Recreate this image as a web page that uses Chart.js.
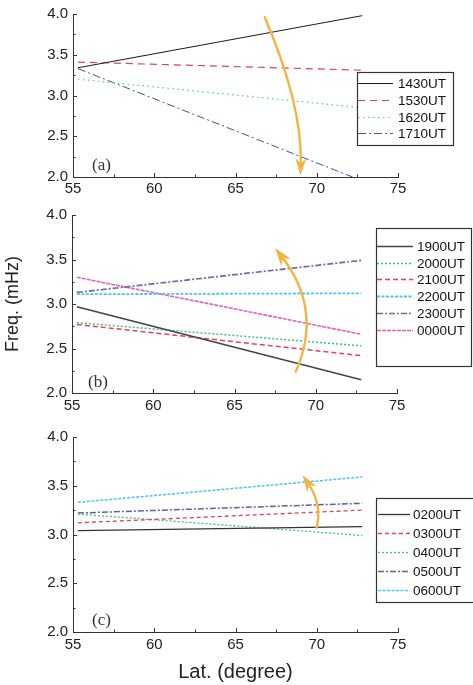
<!DOCTYPE html>
<html><head><meta charset="utf-8">
<script src="https://cdn.jsdelivr.net/npm/chart.js@4.4.1/dist/chart.umd.min.js"></script>
<style>
html,body{margin:0;padding:0;background:#fff;width:473px;height:685px;overflow:hidden}
.p{position:absolute;left:0}
</style></head><body>
<div class="p" style="top:0px"><canvas id="ca" width="473" height="200" style="width:473px;height:200px"></canvas></div>
<div class="p" style="top:200px"><canvas id="cb" width="473" height="220" style="width:473px;height:220px"></canvas></div>
<div class="p" style="top:420px"><canvas id="cc" width="473" height="265" style="width:473px;height:265px"></canvas></div>
<script>
// ---- data ----
const latTicks = [55, 60, 65, 70, 75];
const freqTicks = [2.0, 2.5, 3.0, 3.5, 4.0];
const latRange = [55.3, 72.8];
const lat1710 = [55.3, 72.2];

const labelsA = ['1430UT', '1530UT', '1620UT', '1710UT'];
const f1430 = [3.34, 3.98];
const f1530 = [3.41, 3.31];
const f1620 = [3.20, 2.85];
const f1710 = [3.33, 2.00];

const labelsB = ['1900UT', '2000UT', '2100UT', '2200UT', '2300UT', '0000UT'];
const f1900 = [2.97, 2.15];
const f2000 = [2.79, 2.53];
const f2100 = [2.77, 2.42];
const f2200 = [3.11, 3.12];
const f2300 = [3.13, 3.49];
const f0000 = [3.30, 2.66];

const labelsC = ['0200UT', '0300UT', '0400UT', '0500UT', '0600UT'];
const f0200 = [3.04, 3.08];
const f0300 = [3.12, 3.25];
const f0400 = [3.21, 2.99];
const f0500 = [3.22, 3.32];
const f0600 = [3.33, 3.59];

// arrows: start, middle, tip
const arrowALat = [66.8, 68.5, 69.0];
const arrowAFreq = [3.96, 2.94, 2.02];
const arrowBLat = [68.77, 69.28, 67.5];
const arrowBFreq = [2.24, 2.93, 3.63];
const arrowCLat = [69.99, 69.95, 69.13];
const arrowCFreq = [3.07, 3.32, 3.61];

const panelLabels = ['(a)', '(b)', '(c)'];

// ---- drawing ----
const SANS = "'Liberation Sans', Arial, sans-serif";
const SERIF = "'Liberation Serif', 'Times New Roman', serif";
const ORANGE = '#f3b444';

function pts(xs, ys) { return xs.map((x, i) => ({x: x, y: ys[i]})); }
function mids(arr) { const m = []; for (let i = 0; i < arr.length - 1; i++) m.push((arr[i] + arr[i + 1]) / 2); return m; }

const decor = {
  id: 'decor',
  afterDatasetsDraw(chart) {
    const o = chart.options.plugins.decor;
    const ctx = chart.ctx, xs = chart.scales.x, ys = chart.scales.y, a = chart.chartArea;
    ctx.save();
    // inward ticks
    ctx.strokeStyle = '#333'; ctx.lineWidth = 1;
    ctx.beginPath();
    latTicks.forEach(v => { const px = Math.round(xs.getPixelForValue(v)) + 0.5; ctx.moveTo(px, a.bottom); ctx.lineTo(px, a.bottom - 4); });
    mids(latTicks).forEach(v => { const px = Math.round(xs.getPixelForValue(v)) + 0.5; ctx.moveTo(px, a.bottom); ctx.lineTo(px, a.bottom - 2.5); });
    freqTicks.forEach(v => { const py = Math.round(ys.getPixelForValue(v)) + 0.5; ctx.moveTo(a.left, py); ctx.lineTo(a.left + 4, py); });
    mids(freqTicks).forEach(v => { const py = Math.round(ys.getPixelForValue(v)) + 0.5; ctx.moveTo(a.left, py); ctx.lineTo(a.left + 2.5, py); });
    ctx.stroke();
    // arrow
    const p = o.arrowLat.map((x, i) => ({x: xs.getPixelForValue(x), y: ys.getPixelForValue(o.arrowFreq[i])}));
    const p0 = p[0], pm = p[1], p2 = p[2];
    const c = {x: 2 * pm.x - (p0.x + p2.x) / 2, y: 2 * pm.y - (p0.y + p2.y) / 2};
    let ux = p2.x - c.x, uy = p2.y - c.y; const L = Math.hypot(ux, uy); ux /= L; uy /= L;
    const hl = o.headLen, hw = o.headW;
    const b = {x: p2.x - ux * hl, y: p2.y - uy * hl};
    ctx.strokeStyle = ORANGE; ctx.fillStyle = ORANGE; ctx.lineWidth = 2.4; ctx.lineCap = 'round';
    ctx.beginPath(); ctx.moveTo(p0.x, p0.y);
    ctx.quadraticCurveTo(c.x, c.y, b.x + ux * 3, b.y + uy * 3); ctx.stroke();
    ctx.beginPath();
    ctx.moveTo(p2.x, p2.y);
    ctx.lineTo(b.x - uy * hw - ux * 2, b.y + ux * hw - uy * 2);
    ctx.lineTo(b.x + ux * 3, b.y + uy * 3);
    ctx.lineTo(b.x + uy * hw - ux * 2, b.y - ux * hw - uy * 2);
    ctx.closePath(); ctx.fill();
    // panel label
    ctx.fillStyle = '#333'; ctx.font = '17px ' + SERIF; ctx.textBaseline = 'middle'; ctx.textAlign = 'left';
    ctx.fillText(o.panel, o.panelX, o.panelY - o.top);
    ctx.restore();
  },
  afterDraw(chart) {
    const o = chart.options.plugins.decor;
    const ctx = chart.ctx, g = o.legend;
    ctx.save();
    ctx.fillStyle = '#fff'; ctx.strokeStyle = '#333'; ctx.lineWidth = 1.2;
    ctx.fillRect(g.x, g.y - o.top, g.w, g.h);
    ctx.strokeRect(g.x + 0.5, g.y - o.top + 0.5, g.w, g.h);
    chart.data.datasets.forEach((ds, i) => {
      const y = Math.round(g.row0 + i * g.dy - o.top) + 0.5;
      ctx.strokeStyle = ds.borderColor; ctx.lineWidth = ds.borderWidth; ctx.setLineDash(ds.borderDash || []);
      ctx.beginPath(); ctx.moveTo(g.l0, y); ctx.lineTo(g.l1, y); ctx.stroke();
      ctx.setLineDash([]);
      ctx.fillStyle = '#111'; ctx.font = '13.5px ' + SANS; ctx.textBaseline = 'middle'; ctx.textAlign = 'left';
      ctx.fillText(ds.label, g.tx, y + 0.5);
    });
    ctx.restore();
  }
};

function makeChart(id, cfg) {
  return new Chart(document.getElementById(id), {
    type: 'line',
    data: {
      datasets: cfg.series.map(s => ({
        label: s.label, data: pts(s.lat, s.freq), borderColor: s.color, borderDash: s.dash || [],
        borderWidth: s.width, pointRadius: 0, fill: false, tension: 0
      }))
    },
    options: {
      responsive: false, animation: false, devicePixelRatio: 1,
      layout: {padding: {top: cfg.padTop, right: cfg.padRight, left: 0, bottom: 0}},
      plugins: {legend: {display: false}, tooltip: {enabled: false}, decor: cfg.decor},
      scales: {
        x: {
          type: 'linear', min: 55, max: 75,
          afterBuildTicks: s => { s.ticks = latTicks.map(v => ({value: v})); },
          afterFit: s => { s.height = cfg.xHeight; },
          grid: {display: false, drawTicks: false},
          border: {display: true, color: '#333', width: 1},
          ticks: {padding: cfg.xPad, color: '#222', font: {family: SANS, size: 15}, maxRotation: 0, autoSkip: false, callback: v => String(v)},
          title: cfg.xTitle ? {display: true, text: cfg.xTitle, color: '#222', font: {family: SANS, size: 20}, padding: {top: 0, bottom: 1}} : {display: false}
        },
        y: {
          type: 'linear', min: 2, max: 4,
          afterBuildTicks: s => { s.ticks = freqTicks.map(v => ({value: v})); },
          afterFit: s => { s.width = cfg.yWidth; },
          grid: {display: false, drawTicks: false},
          border: {display: true, color: '#333', width: 1},
          ticks: {padding: 5, color: '#222', font: {family: SANS, size: 15}, autoSkip: false, callback: v => Number(v).toFixed(1)},
          title: cfg.yTitle ? {display: true, text: cfg.yTitle, color: '#222', font: {family: SANS, size: 18}, padding: {top: 2, bottom: 0}} : {display: false}
        }
      }
    },
    plugins: [decor]
  });
}

makeChart('ca', {
  padTop: 13, padRight: 75, xHeight: 23, yWidth: 73, xPad: 3,
  series: [
    {label: labelsA[0], lat: latRange, freq: f1430, color: '#1a1a1a', width: 1},
    {label: labelsA[1], lat: latRange, freq: f1530, color: '#e0405e', dash: [7, 5], width: 1.2},
    {label: labelsA[2], lat: latRange, freq: f1620, color: '#5cc8a4', dash: [1.5, 3.5], width: 1.2},
    {label: labelsA[3], lat: lat1710, freq: f1710, color: '#4a4aa0', dash: [8, 3, 2, 3], width: 1}
  ],
  decor: {top: 0, panel: panelLabels[0], panelX: 92, panelY: 166,
    arrowLat: arrowALat, arrowFreq: arrowAFreq, headLen: 15, headW: 5.5,
    legend: {x: 357, y: 72, w: 96, h: 73, row0: 83.3, dy: 16.7, l0: 358, l1: 393, tx: 398}}
});

makeChart('cb', {
  padTop: 15, padRight: 76, xHeight: 27, yWidth: 72, xPad: 4, yTitle: 'Freq. (mHz)',
  series: [
    {label: labelsB[0], lat: latRange, freq: f1900, color: '#444444', width: 1.5},
    {label: labelsB[1], lat: latRange, freq: f2000, color: '#3fbf7f', dash: [2, 2], width: 1.5},
    {label: labelsB[2], lat: latRange, freq: f2100, color: '#e8404e', dash: [5, 3], width: 1.5},
    {label: labelsB[3], lat: latRange, freq: f2200, color: '#4fc3ef', dash: [3, 1.5], width: 1.8},
    {label: labelsB[4], lat: latRange, freq: f2300, color: '#6a6aae', dash: [6, 2, 2, 2], width: 1.7},
    {label: labelsB[5], lat: latRange, freq: f0000, color: '#e661b2', dash: [4, 1], width: 1.6}
  ],
  decor: {top: 200, panel: panelLabels[1], panelX: 88, panelY: 383,
    arrowLat: arrowBLat, arrowFreq: arrowBFreq, headLen: 16, headW: 6,
    legend: {x: 376, y: 228, w: 95, h: 138, row0: 246, dy: 16.7, l0: 377, l1: 413, tx: 417}}
});

makeChart('cc', {
  padTop: 17, padRight: 75, xHeight: 53, yWidth: 73, xPad: 4, xTitle: 'Lat. (degree)',
  series: [
    {label: labelsC[0], lat: latRange, freq: f0200, color: '#333333', width: 1.3},
    {label: labelsC[1], lat: latRange, freq: f0300, color: '#e8404e', dash: [4, 3], width: 1.3},
    {label: labelsC[2], lat: latRange, freq: f0400, color: '#3fbf7f', dash: [2, 2], width: 1.3},
    {label: labelsC[3], lat: latRange, freq: f0500, color: '#5e5ea6', dash: [6, 2, 2, 2], width: 1.5},
    {label: labelsC[4], lat: latRange, freq: f0600, color: '#4fc3ef', dash: [3, 1.5], width: 1.5}
  ],
  decor: {top: 420, panel: panelLabels[2], panelX: 92, panelY: 621,
    arrowLat: arrowCLat, arrowFreq: arrowCFreq, headLen: 15, headW: 5.5,
    legend: {x: 376, y: 498, w: 100, h: 104, row0: 514.3, dy: 19, l0: 378, l1: 410, tx: 413}}
});
</script>
</body></html>
